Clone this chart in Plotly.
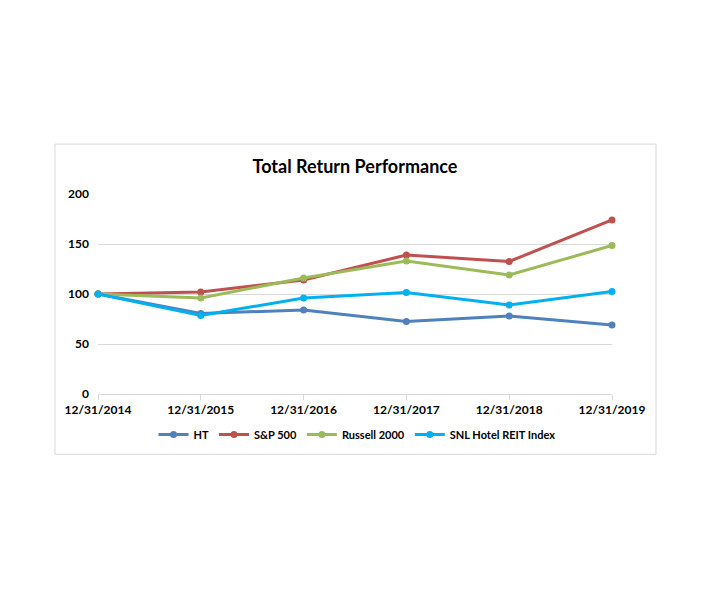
import plotly.graph_objects as go

dates = ["12/31/2014", "12/31/2015", "12/31/2016", "12/31/2017", "12/31/2018", "12/31/2019"]
ht = [100, 80.5, 84, 72.5, 78, 69]
sp500 = [100, 102, 114, 139, 132.5, 174]
russell = [100, 96, 116, 133, 119, 148.5]
snl = [100, 78.5, 96, 101.5, 89, 102.5]

series = [
    ("HT", ht, "#4F81BD"),
    ("S&P 500", sp500, "#C0504D"),
    ("Russell 2000", russell, "#9BBB59"),
    ("SNL Hotel REIT Index", snl, "#00B0F0"),
]

fig = go.Figure()
for name, vals, color in series:
    fig.add_trace(go.Scatter(
        x=dates, y=vals, name=name, mode="lines+markers",
        line=dict(color=color, width=3),
        marker=dict(color=color, size=7),
        cliponaxis=False,
    ))

font_family = "Lato, 'Open Sans', sans-serif"

# page offset (body margin) of 8px
off = 8
pl, pr = 98 - off, 612 - off
ptop, pbot = 194 - off, 394.5 - off
W, H = 710, 599
pw, ph = pr - pl, pbot - ptop

def px_x(x):
    return (x - off - pl) / pw

def px_y(y):
    return (pbot - (y - off)) / ph

fig.update_layout(
    width=W, height=H,
    margin=dict(l=pl, r=W - pr, t=ptop, b=H - pbot),
    paper_bgcolor="white", plot_bgcolor="white",
    font=dict(family=font_family, size=12, color="black"),
    title=dict(text="<b>Total Return Performance</b>", x=0.5, xref="paper",
               y=1 - (167 - off) / H, yref="container", yanchor="middle",
               font=dict(family=font_family, size=18, color="black")),
    showlegend=True,
    legend=dict(orientation="h", x=px_x(357), xanchor="center", y=px_y(435), yanchor="middle",
                font=dict(family=font_family, size=11, color="black", weight="bold"),
                bgcolor="rgba(0,0,0,0)", traceorder="normal"),
    xaxis=dict(type="category", range=[0, 5], showgrid=False, showline=True,
               linecolor="#D9D9D9", linewidth=1, ticks="outside", tickcolor="#D9D9D9",
               ticklen=5, tickfont=dict(family=font_family, size=12, color="black", weight="bold"),
               zeroline=False, fixedrange=True),
    yaxis=dict(range=[0, 200], tickvals=[0, 50, 100, 150, 200], showgrid=True,
               gridcolor="#D9D9D9", gridwidth=1, zeroline=False, showline=False,
               ticks="", ticklabelstandoff=8,
               tickfont=dict(family=font_family, size=12, color="black", weight="bold")),
    shapes=[dict(type="rect", xref="paper", yref="paper",
                 x0=px_x(55), x1=px_x(656),
                 y0=px_y(455), y1=px_y(144),
                 line=dict(color="#D9D9D9", width=1), fillcolor="rgba(0,0,0,0)",
                 layer="below")],
)

fig.write_html("out.html")
